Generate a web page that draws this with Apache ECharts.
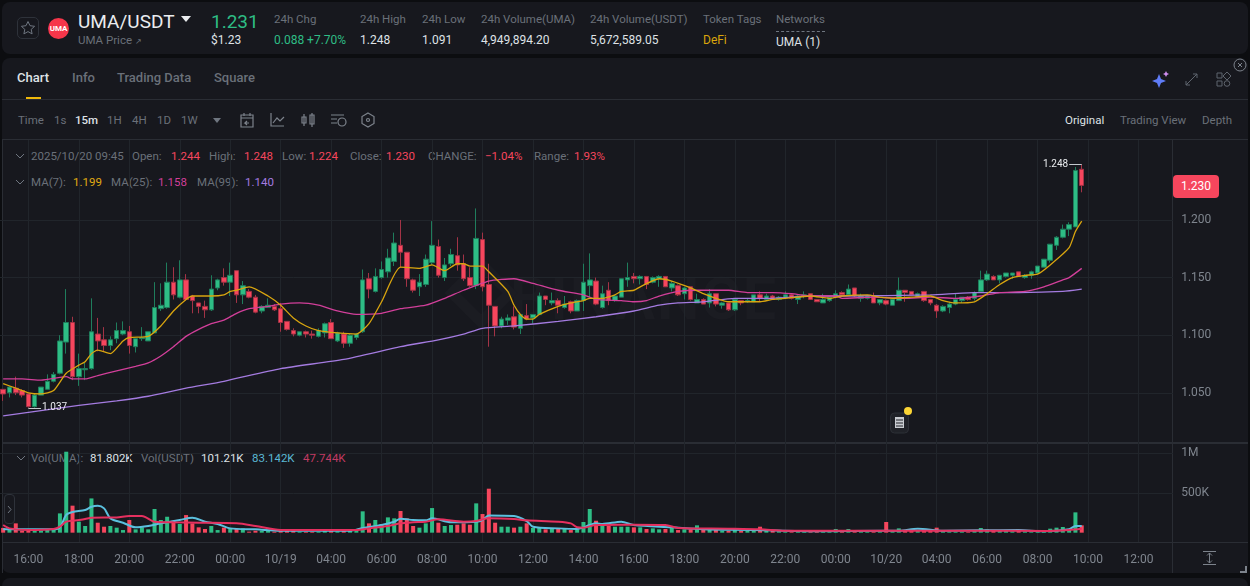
<!DOCTYPE html>
<html lang="en">
<head>
  <meta charset="UTF-8">
  <title>UMA/USDT</title>
  <style>
    * { margin: 0; padding: 0; box-sizing: border-box; }
    html, body { width: 1250px; height: 586px; overflow: hidden; background: #0c0d10; }
    body { font-family: Roboto, "Open Sans", sans-serif; position: relative; }
    .panel { position: absolute; background: #17181e; border-radius: 8px; }
    .t { position: absolute; transform: translateY(-50%); white-space: nowrap; font-size: 12px; color: #dfe2e6; }
    .g { color: #6a7079; }
    .s { font-size: 11.5px; }
    .up { color: #2ebd85; }
    .dn { color: #f6465d; }
    .line { position: absolute; background: #2a2d34; }
    #chart { position: absolute; left: 0; top: 0; width: 1250px; height: 586px; z-index: 2; }
    #tag { position: absolute; left: 1173px; top: 175px; width: 46px; height: 23px; line-height: 23px; background: #f6465d; color: #fff; border-radius: 4px; font-size: 12px; text-align: center; z-index: 3; }
    #mark { position: absolute; left: 510px; top: 263px; font-size: 60px; font-weight: 700; color: #1b1c22; letter-spacing: 2px; }
    svg { position: absolute; overflow: visible; z-index: 3; }
  </style>
</head>
<body>
  <div class="panel" style="left:2px;top:2px;width:1246px;height:52px"></div>
  <div class="panel" style="left:2px;top:58px;width:1246px;height:515px"></div>
  <div class="panel" style="left:2px;top:578px;width:1246px;height:20px"></div>

  <div style="position:absolute;left:17px;top:17px;width:22px;height:22px;border:1px solid #2e323a;border-radius:5px"></div>
  <svg style="left:0;top:0" width="60" height="40"><path d="M28 21.5l2 4.2 4.6.6-3.4 3.1.9 4.5-4.1-2.3-4.1 2.3.9-4.5-3.4-3.1 4.6-.6z" fill="none" stroke="#6f7680"/></svg>
  <div style="position:absolute;left:48px;top:18px;width:21px;height:21px;border-radius:50%;background:#f6364a;color:#fff;font-size:8px;font-weight:700;line-height:21px;text-align:center">UMA</div>
  <span class="t" style="left:78px;top:21px;font-size:19px;color:#eaecef">UMA/USDT</span>
  <svg style="left:181px;top:16px" width="10" height="6"><path d="M0 0h10l-5 6z" fill="#eaecef"/></svg>
  <span class="t g s" style="left:78px;top:40px">UMA Price <span style="font-size:8px">↗</span></span>
  <span class="t up" style="left:211px;top:21px;font-size:19px">1.231</span>
  <span class="t" style="left:211px;top:40px">$1.23</span>
  <span class="t g s" style="left:274px;top:19px">24h Chg</span>
  <span class="t up" style="left:274px;top:40px">0.088 +7.70%</span>
  <span class="t g s" style="left:360px;top:19px">24h High</span>
  <span class="t" style="left:360px;top:40px">1.248</span>
  <span class="t g s" style="left:422px;top:19px">24h Low</span>
  <span class="t" style="left:422px;top:40px">1.091</span>
  <span class="t g s" style="left:481px;top:19px">24h Volume(UMA)</span>
  <span class="t" style="left:481px;top:40px">4,949,894.20</span>
  <span class="t g s" style="left:590px;top:19px">24h Volume(USDT)</span>
  <span class="t" style="left:590px;top:40px">5,672,589.05</span>
  <span class="t g s" style="left:703px;top:19px">Token Tags</span>
  <span class="t" style="left:703px;top:40px;color:#d9a50b">DeFi</span>
  <span class="t g s" style="left:776px;top:19px">Networks</span>
  <div style="position:absolute;left:776px;top:31px;width:49px;border-top:1px dashed #6f7680"></div>
  <span class="t" style="left:776px;top:42px">UMA (1)</span>

  <span class="t" style="left:17px;top:77px;font-size:13px;font-weight:500">Chart</span>
  <span class="t g" style="left:72px;top:77px;font-size:13px;font-weight:500">Info</span>
  <span class="t g" style="left:117px;top:77px;font-size:13px;font-weight:500">Trading Data</span>
  <span class="t g" style="left:214px;top:77px;font-size:13px;font-weight:500">Square</span>
  <div style="position:absolute;left:26px;top:97px;width:15px;height:3px;background:#f0b90b"></div>
  <div class="line" style="left:2px;top:99px;width:1246px;height:1px"></div>

  <span class="t g s" style="left:18px;top:120px">Time</span>
  <span class="t g s" style="left:54px;top:120px">1s</span>
  <span class="t s" style="left:75px;top:120px;font-weight:500">15m</span>
  <span class="t g s" style="left:107px;top:120px">1H</span>
  <span class="t g s" style="left:132px;top:120px">4H</span>
  <span class="t g s" style="left:157px;top:120px">1D</span>
  <span class="t g s" style="left:181px;top:120px">1W</span>
  <svg style="left:213px;top:118px" width="8" height="5"><path d="M0 0h8l-4 5z" fill="#6f7680"/></svg>
  <svg style="left:240px;top:112px" width="140" height="16" fill="none" stroke="#7d838c" stroke-width="1.2">
    <path d="M1 3h12v12H1zM1 6h12M4 1v3M10 1v3M9 11H5l2-2M5 11l2 2"/>
    <path d="M31 1v13h13M33 11l4-5 3 3 4-4"/>
    <path d="M62 5h4v6h-4zM64 2v12M70 3h4v9h-4zM72 1v14"/>
    <path d="M91 3h13M91 7h6M91 11h6"/><circle cx="102" cy="10" r="4"/>
    <path d="M128 1l6 3.5v7l-6 3.5-6-3.5v-7z"/><circle cx="128" cy="8" r="1.5"/>
  </svg>
  <span class="t s" style="left:1065px;top:120px">Original</span>
  <span class="t g s" style="left:1120px;top:120px">Trading View</span>
  <span class="t g s" style="left:1202px;top:120px">Depth</span>

  <svg style="left:1153px;top:71px" width="90" height="18" fill="none" stroke="#5f656e" stroke-width="1">
    <path d="M6 3l2 5 5 2-5 2-2 5-2-5-5-2 5-2z" fill="#5f7cf7" stroke="none"/><path d="M13 0l1 2 2 1-2 1-1 2-1-2-2-1 2-1z" fill="#d08df0" stroke="none"/>
    <path d="M33 14L44 3M40 3h4v4M33 10v4h4"/>
    <path d="M64 2h5v5h-5zM64 10h5v5h-5z"/><path d="M74 1l4 4-4 4-4-4z"/><circle cx="74" cy="12.5" r="2.8"/>
  </svg>
  <svg style="left:1233px;top:58px" width="14" height="14" fill="none" stroke="#7d838c"><circle cx="7" cy="7" r="6"/><path d="M5 5l4 4M9 5l-4 4"/></svg>

  <div id="mark">BINANCE</div>
  <svg style="left:450px;top:262px;z-index:1" width="62" height="62"><path d="M31 2l29 29-29 29L2 31z" fill="none" stroke="#1b1c22" stroke-width="11"/></svg>

  <div class="line" style="left:2px;top:139px;width:1246px;height:1px"></div>
  <div class="line" style="left:2px;top:442px;width:1246px;height:2px"></div>
  <div class="line" style="left:2px;top:542px;width:1246px;height:1px"></div>
  <div class="line" style="left:1172px;top:140px;width:1px;height:433px"></div>
  <div class="line" style="left:2px;top:140px;width:1px;height:433px"></div>

  <svg style="left:16px;top:154px" width="8" height="30" fill="none" stroke="#6f7680"><path d="M0 0l4 4 4-4M0 26l4 4 4-4" /></svg>
  <span class="t g s" style="left:31px;top:156px">2025/10/20 09:45</span>
  <span class="t g s" style="left:132px;top:156px">Open:</span><span class="t dn s" style="left:171px;top:156px">1.244</span>
  <span class="t g s" style="left:209px;top:156px">High:</span><span class="t dn s" style="left:244px;top:156px">1.248</span>
  <span class="t g s" style="left:282px;top:156px">Low:</span><span class="t dn s" style="left:309px;top:156px">1.224</span>
  <span class="t g s" style="left:350px;top:156px">Close:</span><span class="t dn s" style="left:386px;top:156px">1.230</span>
  <span class="t g s" style="left:428px;top:156px">CHANGE:</span><span class="t dn s" style="left:485px;top:156px">−1.04%</span>
  <span class="t g s" style="left:534px;top:156px">Range:</span><span class="t dn s" style="left:574px;top:156px">1.93%</span>
  <span class="t g s" style="left:31px;top:182px">MA(7):</span><span class="t s" style="left:73px;top:182px;color:#e0ab12">1.199</span>
  <span class="t g s" style="left:111px;top:182px">MA(25):</span><span class="t s" style="left:158px;top:182px;color:#d23f9a">1.158</span>
  <span class="t g s" style="left:197px;top:182px">MA(99):</span><span class="t s" style="left:245px;top:182px;color:#a47be0">1.140</span>
  <svg style="left:17px;top:456px" width="8" height="5" fill="none" stroke="#6f7680"><path d="M0 0l4 4 4-4"/></svg>
  <span class="t g s" style="left:31px;top:458px">Vol(UMA):</span><span class="t s" style="left:90px;top:458px">81.802K</span>
  <span class="t g s" style="left:141px;top:458px">Vol(USDT)</span><span class="t s" style="left:201px;top:458px">101.21K</span>
  <span class="t s" style="left:252px;top:458px;color:#5bb8d4">83.142K</span>
  <span class="t s" style="left:303px;top:458px;color:#c23a62">47.744K</span>

  <div id="tag">1.230</div>
  <div style="position:absolute;left:4px;top:494px;width:11px;height:30px;border:1px solid #2e323a;border-radius:4px;background:#17181e;z-index:3"></div>
  <svg style="left:8px;top:506px" width="4" height="7" fill="none" stroke="#6f7680"><path d="M0 0l3 3.5L0 7"/></svg>
  <svg style="left:890px;top:406px" width="24" height="28">
    <rect x="0.5" y="7" width="18" height="20" rx="4" fill="#202228" stroke="#2d3037"/>
    <rect x="5" y="11" width="9" height="11" fill="#c9ccd1"/><path d="M6 14h7M6 17h7M6 20h7" stroke="#202228"/>
    <circle cx="18" cy="5" r="4" fill="#fcd535"/>
  </svg>
  <svg style="left:1203px;top:551px" width="14" height="14" fill="none" stroke="#7d838c"><path d="M0 .5h13M0 13.5h13M6.5 2v10M4 4.5L6.5 2 9 4.5M4 9.5L6.5 12 9 9.5"/></svg>
  <svg style="left:1240px;top:566px" width="7" height="7" fill="none" stroke="#7d838c" stroke-width="2"><path d="M0 6h6V0"/></svg>

  <div id="chart"></div>

  <script src="https://cdn.jsdelivr.net/npm/echarts@6/dist/echarts.min.js"></script>
  <script type="text/javascript">
  // [open, close, low, high], one candle per 15 minutes from 10/18 15:00
  var ohlc = [
    [1.053,1.049,1.043,1.053],[1.050,1.055,1.046,1.056],[1.054,1.050,1.048,1.064],[1.052,1.048,1.046,1.053],
    [1.049,1.038,1.037,1.049],[1.038,1.048,1.037,1.049],[1.048,1.055,1.048,1.055],[1.053,1.060,1.053,1.066],
    [1.060,1.066,1.059,1.068],[1.067,1.095,1.066,1.100],[1.094,1.111,1.084,1.140],[1.111,1.064,1.061,1.116],
    [1.064,1.071,1.056,1.084],[1.070,1.071,1.061,1.076],[1.071,1.103,1.070,1.132],[1.101,1.095,1.086,1.115],
    [1.096,1.091,1.086,1.107],[1.091,1.096,1.087,1.099],[1.097,1.104,1.093,1.111],[1.101,1.104,1.100,1.112],
    [1.103,1.091,1.084,1.108],[1.090,1.097,1.085,1.097],[1.097,1.098,1.095,1.107],[1.095,1.103,1.095,1.103],
    [1.102,1.124,1.102,1.146],[1.123,1.126,1.121,1.145],[1.124,1.146,1.123,1.163],[1.146,1.135,1.131,1.159],
    [1.133,1.148,1.132,1.165],[1.148,1.131,1.130,1.153],[1.134,1.130,1.119,1.135],[1.128,1.125,1.119,1.128],
    [1.125,1.122,1.115,1.130],[1.122,1.140,1.121,1.152],[1.141,1.148,1.139,1.149],[1.150,1.146,1.143,1.158],
    [1.146,1.152,1.134,1.163],[1.156,1.135,1.128,1.156],[1.135,1.143,1.127,1.147],[1.138,1.133,1.132,1.140],
    [1.133,1.120,1.119,1.135],[1.121,1.125,1.119,1.126],[1.124,1.126,1.124,1.132],[1.125,1.122,1.121,1.127],
    [1.123,1.111,1.103,1.128],[1.112,1.105,1.104,1.112],[1.104,1.101,1.099,1.106],[1.100,1.103,1.099,1.103],
    [1.103,1.101,1.098,1.104],[1.101,1.100,1.097,1.104],[1.099,1.104,1.098,1.106],[1.102,1.110,1.098,1.111],
    [1.111,1.097,1.097,1.114],[1.095,1.102,1.094,1.103],[1.101,1.093,1.089,1.103],[1.093,1.100,1.090,1.101],
    [1.098,1.101,1.096,1.102],[1.103,1.148,1.102,1.157],[1.149,1.140,1.132,1.154],[1.138,1.151,1.137,1.158],
    [1.150,1.157,1.149,1.164],[1.155,1.167,1.150,1.175],[1.164,1.180,1.160,1.189],[1.178,1.172,1.159,1.200],
    [1.172,1.149,1.142,1.172],[1.148,1.139,1.137,1.149],[1.142,1.146,1.134,1.153],[1.144,1.166,1.142,1.170],
    [1.163,1.178,1.161,1.199],[1.177,1.152,1.150,1.183],[1.150,1.161,1.147,1.167],[1.162,1.170,1.160,1.175],
    [1.169,1.161,1.156,1.185],[1.162,1.149,1.147,1.170],[1.150,1.143,1.142,1.159],[1.143,1.184,1.140,1.210],
    [1.183,1.142,1.138,1.189],[1.144,1.126,1.090,1.162],[1.125,1.108,1.099,1.125],[1.108,1.114,1.106,1.116],
    [1.113,1.115,1.109,1.118],[1.116,1.107,1.105,1.125],[1.106,1.118,1.101,1.118],[1.117,1.114,1.113,1.127],
    [1.115,1.118,1.110,1.118],[1.118,1.134,1.118,1.137],[1.134,1.131,1.126,1.134],[1.128,1.130,1.126,1.137],
    [1.130,1.126,1.119,1.132],[1.124,1.127,1.123,1.134],[1.129,1.121,1.119,1.130],[1.121,1.130,1.121,1.131],
    [1.130,1.146,1.121,1.162],[1.143,1.148,1.133,1.171],[1.147,1.127,1.126,1.150],[1.124,1.136,1.123,1.143],
    [1.139,1.130,1.126,1.146],[1.130,1.134,1.129,1.135],[1.133,1.149,1.133,1.149],[1.148,1.150,1.142,1.163],
    [1.151,1.149,1.145,1.154],[1.149,1.151,1.144,1.152],[1.151,1.144,1.140,1.151],[1.146,1.150,1.145,1.151],
    [1.149,1.151,1.142,1.152],[1.151,1.142,1.142,1.151],[1.141,1.145,1.138,1.147],[1.143,1.135,1.134,1.144],
    [1.136,1.141,1.131,1.142],[1.142,1.131,1.130,1.142],[1.128,1.131,1.128,1.136],[1.131,1.127,1.127,1.132],
    [1.128,1.136,1.124,1.140],[1.136,1.127,1.125,1.136],[1.126,1.128,1.123,1.129],[1.128,1.122,1.121,1.128],
    [1.122,1.131,1.121,1.132],[1.130,1.128,1.126,1.130],[1.129,1.130,1.128,1.132],[1.129,1.135,1.129,1.135],
    [1.135,1.132,1.129,1.138],[1.131,1.134,1.130,1.136],[1.134,1.132,1.131,1.135],[1.131,1.133,1.130,1.134],
    [1.133,1.135,1.132,1.138],[1.135,1.132,1.131,1.136],[1.131,1.134,1.127,1.135],[1.134,1.135,1.132,1.138],
    [1.136,1.131,1.131,1.136],[1.131,1.129,1.129,1.131],[1.128,1.131,1.128,1.136],[1.130,1.133,1.129,1.134],
    [1.133,1.136,1.132,1.139],[1.137,1.135,1.134,1.138],[1.135,1.140,1.134,1.144],[1.141,1.134,1.133,1.141],
    [1.132,1.134,1.129,1.136],[1.132,1.134,1.131,1.135],[1.134,1.128,1.128,1.137],[1.128,1.131,1.126,1.131],
    [1.130,1.127,1.126,1.131],[1.126,1.131,1.126,1.131],[1.130,1.139,1.130,1.150],[1.139,1.137,1.129,1.139],
    [1.138,1.135,1.135,1.138],[1.133,1.136,1.133,1.137],[1.138,1.130,1.129,1.138],[1.131,1.128,1.126,1.131],
    [1.126,1.121,1.115,1.127],[1.121,1.125,1.120,1.126],[1.124,1.127,1.119,1.129],[1.127,1.131,1.126,1.136],
    [1.130,1.133,1.128,1.133],[1.133,1.131,1.130,1.134],[1.132,1.137,1.130,1.138],[1.138,1.148,1.137,1.156],
    [1.148,1.153,1.147,1.156],[1.151,1.148,1.148,1.152],[1.148,1.152,1.145,1.152],[1.151,1.154,1.150,1.154],
    [1.152,1.154,1.149,1.154],[1.155,1.151,1.151,1.155],[1.150,1.152,1.149,1.153],[1.152,1.155,1.149,1.156],
    [1.154,1.160,1.153,1.160],[1.159,1.166,1.159,1.166],[1.165,1.179,1.163,1.179],[1.178,1.185,1.174,1.186],
    [1.185,1.192,1.184,1.196],[1.192,1.196,1.186,1.198],[1.194,1.243,1.194,1.246],[1.244,1.230,1.224,1.248]
  ];

  // volume in thousands of UMA, same order as ohlc
  var volumeK = [
    60,40,117,25,25,25,25,33,50,242,1016,339,138,84,430,125,75,84,63,33,159,42,67,42,
    297,159,200,150,109,221,117,67,46,84,33,63,54,46,54,13,25,25,33,13,25,25,25,13,
    13,13,13,25,42,17,33,25,25,268,117,159,109,192,180,272,180,84,63,117,309,125,84,96,
    100,117,100,368,234,552,125,75,75,63,75,117,59,67,42,50,46,50,33,42,134,297,150,
    84,84,75,75,75,67,67,46,54,42,46,67,33,42,42,92,42,42,50,25,25,33,25,25,25,75,25,25,
    17,10,8,13,17,8,10,17,17,46,21,46,10,17,10,10,17,134,25,54,
    33,25,33,33,33,63,25,13,13,13,8,21,59,42,33,21,21,17,21,17,8,8,25,50,63,71,42,255,92
  ];

  // moving averages as [candle index, value]
  var ma7 = [[0,1.058],[2,1.054],[4,1.050],[6,1.049],[8,1.052],[10,1.067],[12,1.074],[13,1.077],[14,1.084],[15,1.087],[17,1.084],[19,1.095],[20,1.098],[23,1.099],[25,1.108],[27,1.121],[29,1.131],[30,1.134],[33,1.134],[35,1.135],[36,1.138],[37,1.139],[39,1.142],[42,1.134],[44,1.126],[46,1.115],[48,1.108],[50,1.104],[53,1.102],[56,1.101],[58,1.110],[60,1.129],[63,1.159],[66,1.158],[68,1.161],[70,1.156],[72,1.162],[73,1.162],[74,1.160],[76,1.160],[77,1.155],[80,1.138],[81,1.126],[82,1.118],[83,1.114],[84,1.114],[85,1.118],[88,1.125],[90,1.128],[92,1.130],[93,1.132],[95,1.132],[97,1.135],[98,1.138],[100,1.139],[101,1.142],[104,1.149],[106,1.147],[109,1.141],[111,1.136],[113,1.132],[115,1.129],[118,1.129],[120,1.129],[122,1.131],[124,1.132],[128,1.134],[131,1.132],[133,1.134],[137,1.135],[139,1.133],[141,1.132],[144,1.133],[147,1.134],[149,1.130],[151,1.128],[154,1.129],[156,1.136],[158,1.144],[160,1.150],[162,1.152],[164,1.153],[166,1.161],[169,1.176],[170,1.190],[171,1.199]];
  var ma25 = [[0,1.062],[3,1.062],[6,1.061],[10,1.064],[11,1.062],[13,1.062],[15,1.065],[18,1.069],[21,1.073],[23,1.076],[25,1.082],[27,1.090],[29,1.099],[31,1.105],[33,1.110],[35,1.113],[37,1.119],[39,1.123],[42,1.125],[44,1.127],[47,1.128],[50,1.126],[53,1.121],[56,1.118],[60,1.119],[63,1.123],[67,1.126],[70,1.132],[73,1.139],[77,1.147],[81,1.149],[84,1.145],[88,1.139],[92,1.135],[94,1.131],[98,1.130],[100,1.129],[102,1.130],[104,1.134],[107,1.138],[110,1.139],[115,1.139],[118,1.137],[122,1.137],[125,1.136],[128,1.134],[132,1.134],[133,1.132],[138,1.133],[143,1.132],[147,1.133],[151,1.132],[155,1.134],[158,1.137],[162,1.138],[165,1.142],[168,1.148],[169,1.150],[171,1.158]];
  var ma99 = [[0,1.030],[12,1.039],[18,1.043],[23,1.047],[29,1.054],[35,1.060],[44,1.071],[54,1.079],[63,1.090],[69,1.096],[73,1.101],[76,1.106],[81,1.108],[88,1.112],[94,1.116],[100,1.121],[104,1.126],[107,1.128],[111,1.129],[116,1.132],[122,1.132],[128,1.134],[133,1.134],[147,1.135],[154,1.137],[161,1.137],[168,1.138],[171,1.140]];
  var volMaFast = [[0,42],[4,42],[8,42],[9,67],[10,222],[11,259],[13,284],[14,326],[15,339],[16,305],[17,180],[19,125],[21,67],[23,84],[25,117],[28,159],[30,188],[32,138],[34,109],[36,54],[40,42],[44,25],[47,25],[55,25],[57,59],[60,96],[62,138],[63,176],[65,159],[67,155],[68,180],[71,130],[75,138],[76,159],[77,217],[81,209],[83,146],[84,75],[88,54],[91,46],[93,96],[94,117],[95,109],[98,138],[100,96],[106,67],[111,42],[119,33],[129,17],[140,25],[142,25],[145,50],[149,25],[155,29],[161,33],[165,17],[169,42],[170,84],[171,83]];
  var volMaSlow = [[0,96],[1,54],[4,33],[8,46],[9,75],[10,138],[12,159],[13,171],[14,188],[18,192],[20,209],[22,209],[24,138],[27,130],[31,125],[37,117],[40,84],[44,33],[47,33],[56,33],[58,54],[61,84],[63,117],[65,130],[67,138],[69,167],[73,138],[75,146],[77,180],[81,171],[83,155],[88,138],[90,117],[91,67],[92,63],[94,96],[95,96],[100,100],[105,96],[107,59],[115,50],[120,42],[124,25],[135,25],[140,25],[147,25],[158,25],[165,21],[169,33],[171,48]];

  var priceTicks = [1.05, 1.1, 1.15, 1.2];
  var volumeTicks = [500, 1000];
  var highLabel = 1.248, lowLabel = 1.037;
  var slotCount = 186;

  var categories = [];
  for (var n = 0; n < slotCount; n++) {
    var d = new Date(Date.UTC(2025, 9, 18, 15, n * 15));
    var pad = function (x) { return (x < 10 ? '0' : '') + x; };
    categories.push(pad(d.getUTCMonth() + 1) + '/' + pad(d.getUTCDate()) + ' ' + pad(d.getUTCHours()) + ':' + pad(d.getUTCMinutes()));
  }
  // a grid line and a label every 2 hours, starting at 16:00
  function everyTwoHours (index) { return index >= 4 && (index - 4) % 8 === 0; }

  var gridColor = '#21252b', axisText = '#7f858e';
  var up = '#2ebd85', down = '#f6465d';

  function levelLines (values) {
    return {
      silent: true, symbol: 'none', z: 1, label: { show: false },
      lineStyle: { color: gridColor, width: 1, type: 'solid' },
      data: values.map(function (v) { return { yAxis: v }; })
    };
  }
  function maLine (name, data, color) {
    return { name: name, type: 'line', data: data, showSymbol: false, smooth: 0.2, silent: true, lineStyle: { color: color, width: 1.3 }, z: 3 };
  }
  function extremeLine (from, to, value, side) {
    return [{ coord: [from, value], label: { show: true, position: side, formatter: value.toFixed(3), color: '#eaecef', fontSize: 10, distance: 1 } }, { coord: [to, value] }];
  }

  function main () {
    var chart = echarts.init(document.getElementById('chart'), null, { renderer: 'canvas' });
    chart.setOption({
      animation: false,
      backgroundColor: 'transparent',
      textStyle: { fontFamily: 'Roboto, sans-serif' },
      grid: [
        { left: -0.5, top: 140, width: 1173.7, height: 302 },
        { left: -0.5, top: 442, width: 1173.7, height: 100 }
      ],
      xAxis: [0, 1].map(function (i) {
        return {
          type: 'category', gridIndex: i, data: categories,
          axisLine: { show: false }, axisTick: { show: false },
          axisLabel: {
            show: i === 1, interval: function (index) { return everyTwoHours(index); }, color: axisText, fontSize: 12, margin: 12,
            formatter: function (value) { var p = value.split(' '); return p[1] === '02:00' ? p[0] : p[1]; }
          },
          splitLine: { show: true, alignWithLabel: true, interval: function (index) { return everyTwoHours(index); }, lineStyle: { color: gridColor, width: 1 } }
        };
      }),
      yAxis: [
        {
          type: 'value', gridIndex: 0, position: 'right', scale: true, min: 1.0073, max: 1.2694,
          axisLine: { show: false }, axisTick: { show: false }, splitLine: { show: false },
          axisLabel: { customValues: priceTicks, color: axisText, fontSize: 12, margin: 8, padding: [2, 0, 0, 0], formatter: function (v) { return v.toFixed(3); } }
        },
        {
          type: 'value', gridIndex: 1, position: 'right', min: -117, max: 1138,
          axisLine: { show: false }, axisTick: { show: false }, splitLine: { show: false },
          axisLabel: { customValues: volumeTicks, color: axisText, fontSize: 12, margin: 8, padding: [2, 0, 0, 0], formatter: function (v) { return v >= 1000 ? '1M' : v + 'K'; } }
        }
      ],
      series: [
        { type: 'line', data: [], xAxisIndex: 0, yAxisIndex: 0, markLine: levelLines(priceTicks), z: 1 },
        {
          type: 'candlestick', data: ohlc, xAxisIndex: 0, yAxisIndex: 0, barWidth: 5, silent: true, z: 2,
          itemStyle: { color: up, color0: down, borderColor: '#1f7d5c', borderColor0: '#a33346', borderWidth: 1 },
          markLine: {
            silent: true, symbol: 'none', z: 6,
            lineStyle: { color: '#c4c8ce', width: 1, type: 'solid' },
            data: [extremeLine(169, 171, highLabel, 'start'), extremeLine(4, 6, lowLabel, 'end')]
          }
        },
        maLine('MA(99)', ma99, '#a47be0'),
        maLine('MA(25)', ma25, '#d23f9a'),
        maLine('MA(7)', ma7, '#d9a50f'),
        { type: 'line', data: [], xAxisIndex: 1, yAxisIndex: 1, markLine: levelLines(volumeTicks), z: 1 },
        {
          type: 'bar', data: volumeK, xAxisIndex: 1, yAxisIndex: 1, barWidth: 4, silent: true, z: 2,
          itemStyle: { color: function (p) { var c = ohlc[p.dataIndex]; return c[1] >= c[0] ? up : down; } }
        },
        { type: 'line', data: volMaFast, xAxisIndex: 1, yAxisIndex: 1, showSymbol: false, smooth: 0.3, silent: true, lineStyle: { color: '#5bc0de', width: 2 }, z: 3 },
        { type: 'line', data: volMaSlow, xAxisIndex: 1, yAxisIndex: 1, showSymbol: false, smooth: 0.3, silent: true, lineStyle: { color: '#e5305f', width: 2 }, z: 4 }
      ]
    });
  }

  window.addEventListener('load', main);
  </script>
</body>
</html>
